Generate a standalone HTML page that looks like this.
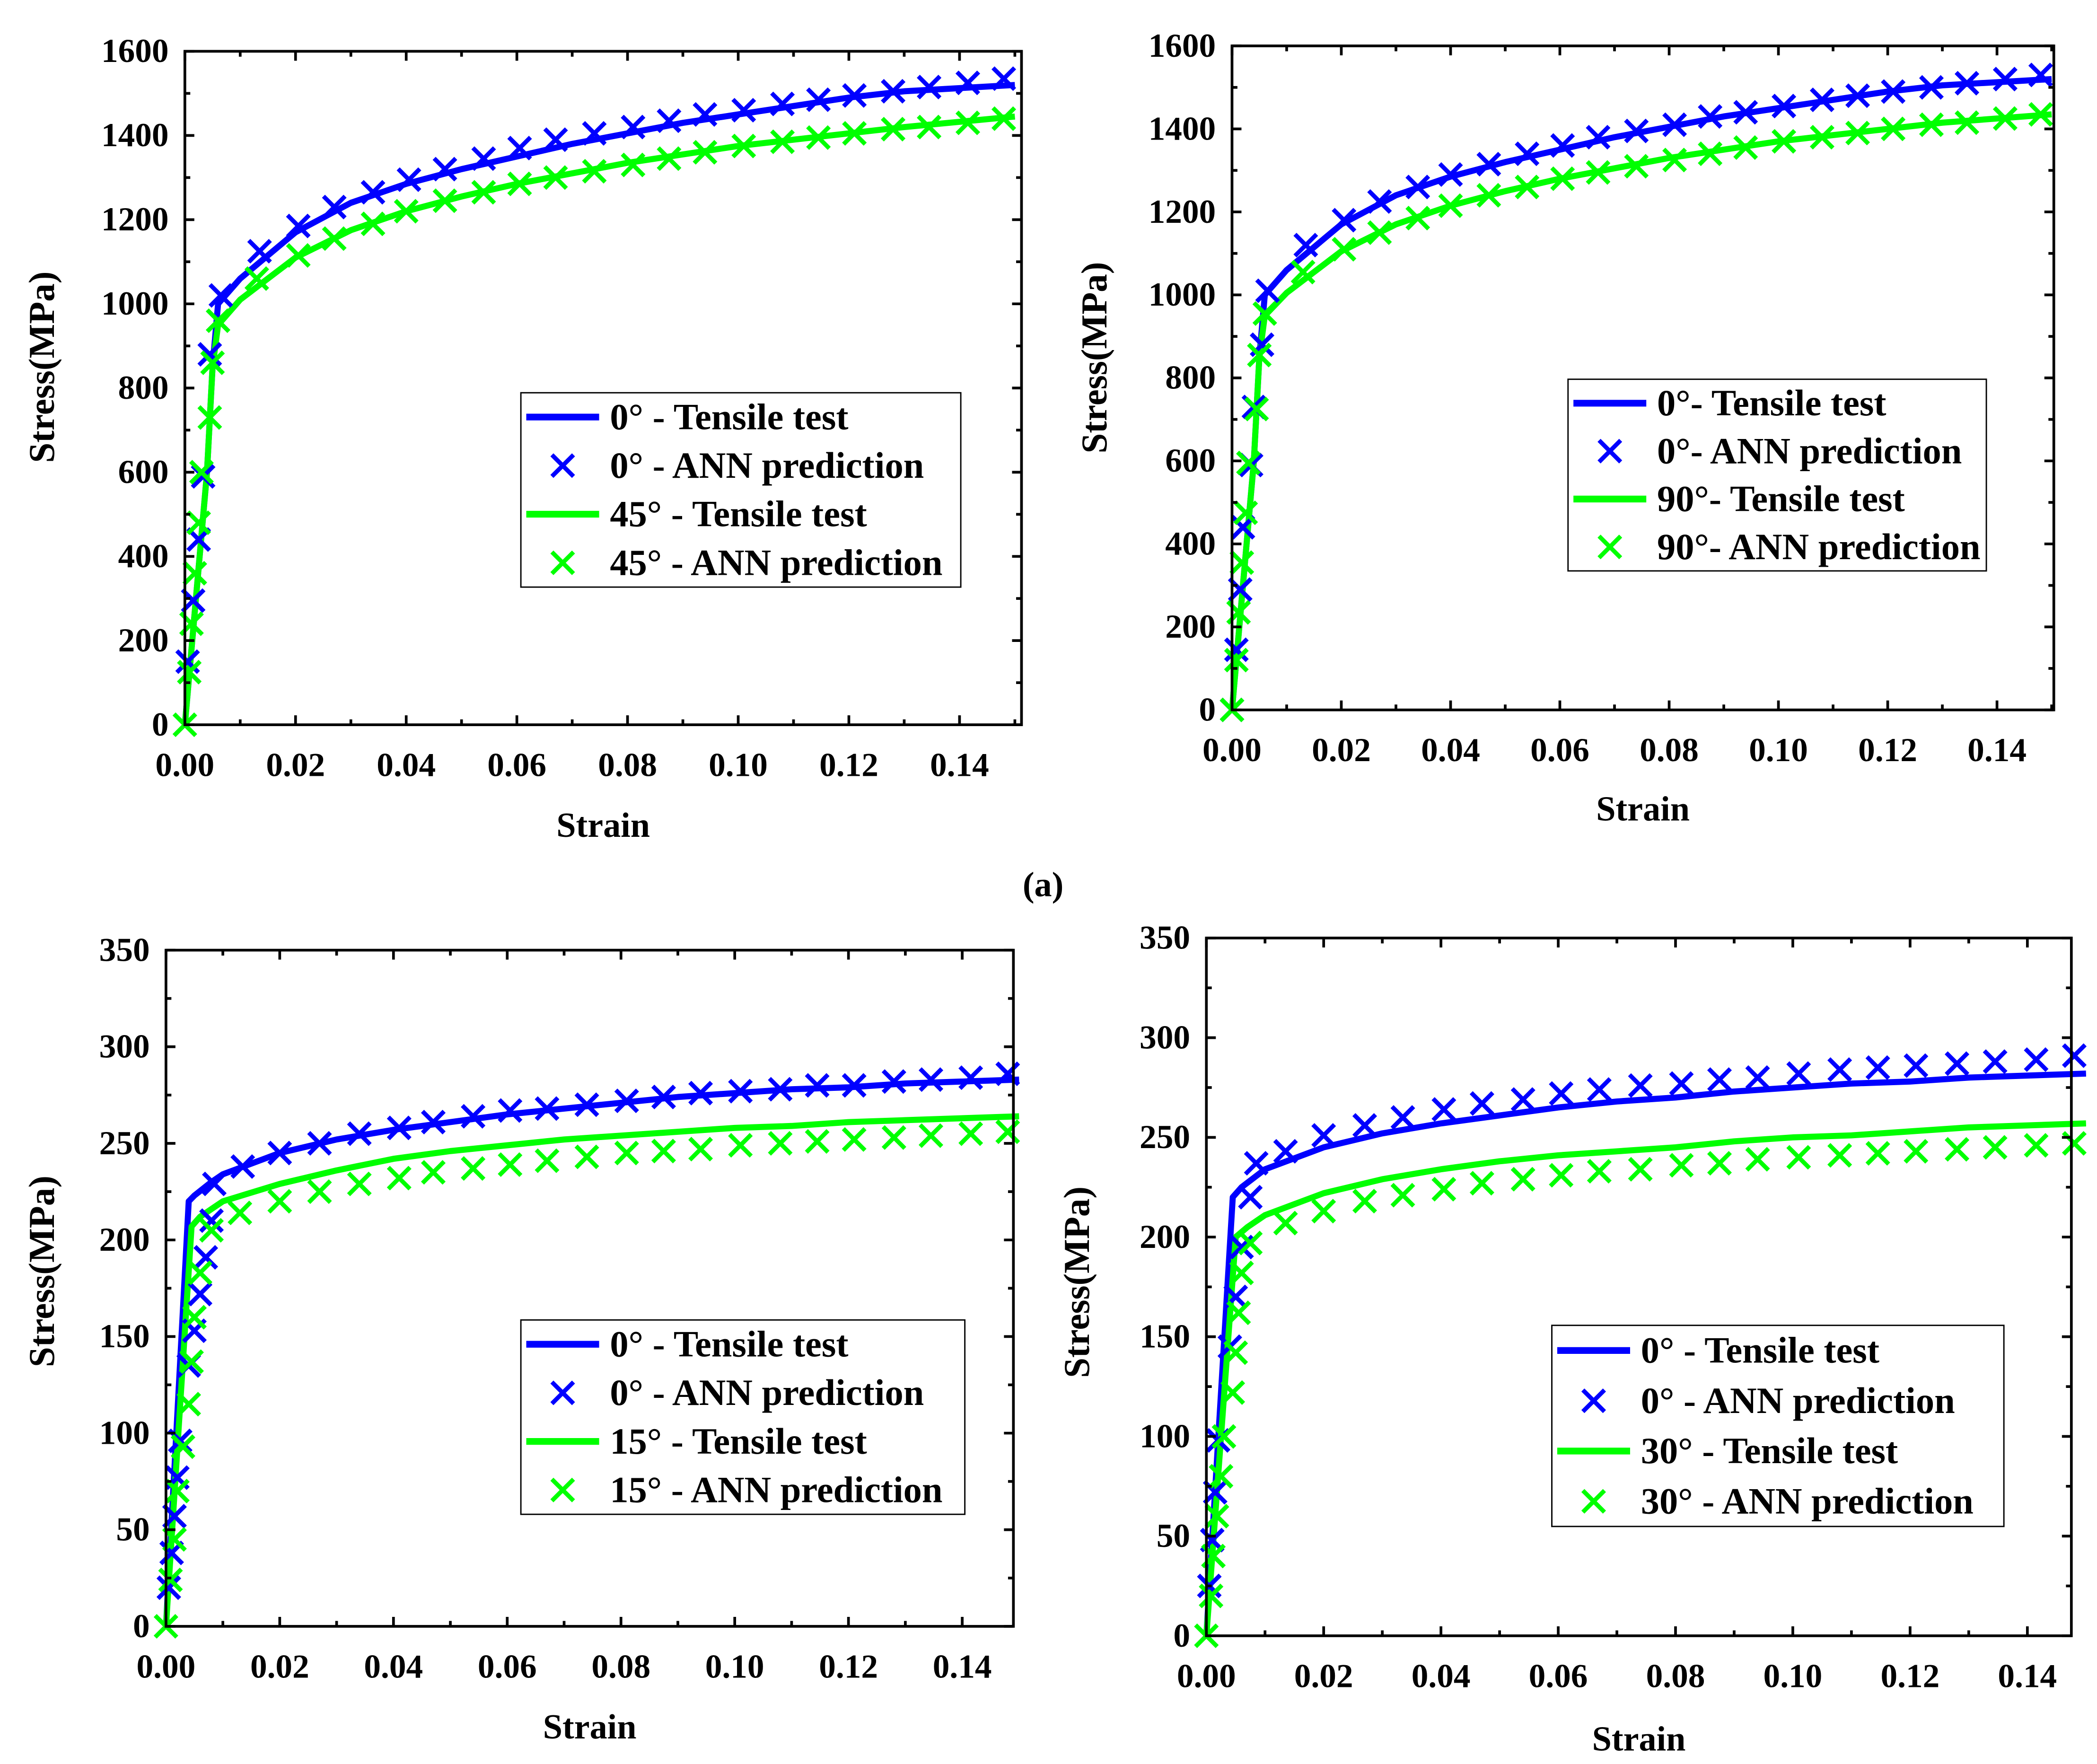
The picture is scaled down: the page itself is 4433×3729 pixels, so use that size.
<!DOCTYPE html>
<html><head><meta charset="utf-8"><style>
html,body{margin:0;padding:0;background:#fff;}
svg{display:block;font-family:"Liberation Serif",serif;font-weight:bold;}
</style></head><body>
<svg id="fig" xmlns="http://www.w3.org/2000/svg" width="4433" height="3729" viewBox="0 0 1554 1307" preserveAspectRatio="none">
<text x="773" y="664" text-anchor="middle" font-size="26">(a)</text>
</svg>
<script>
// ---- Data (strain, stress MPa) ----
const tlLine0X=[0,0.001,0.002,0.003,0.004,0.005,0.006,0.01,0.02,0.03,0.04,0.05,0.06,0.07,0.08,0.09,0.10,0.11,0.12,0.13,0.15];
const tlLine0Y=[0,150,300,450,600,850,1000,1060,1170,1240,1285,1320,1350,1380,1405,1430,1450,1470,1490,1505,1520];
const tlLine45X=[0,0.001,0.002,0.003,0.004,0.005,0.006,0.01,0.02,0.03,0.04,0.05,0.06,0.07,0.08,0.09,0.10,0.11,0.12,0.13,0.15];
const tlLine45Y=[0,150,300,450,600,850,950,1010,1110,1175,1220,1255,1285,1310,1335,1355,1375,1390,1405,1420,1445];
const tlAnn0X=[0.0005,0.0015,0.0025,0.0033,0.0045,0.0065,0.0135,0.0205,0.027,0.034,0.0405,0.047,0.054,0.0605,0.067,0.074,0.081,0.0875,0.094,0.101,0.108,0.1145,0.121,0.128,0.1345,0.1415,0.148];
const tlAnn0Y=[150,295,440,590,880,1020,1125,1185,1230,1265,1295,1320,1345,1370,1390,1405,1420,1435,1450,1460,1475,1485,1495,1505,1515,1525,1535];
const tlAnn45X=[0,0.0008,0.0012,0.0018,0.0025,0.003,0.0045,0.005,0.006,0.013,0.0205,0.027,0.034,0.04,0.047,0.054,0.0605,0.067,0.074,0.081,0.0875,0.094,0.101,0.108,0.1145,0.121,0.128,0.1345,0.1415,0.148];
const tlAnn45Y=[0,125,240,360,480,600,730,860,960,1060,1115,1155,1190,1220,1245,1265,1285,1300,1315,1330,1345,1360,1375,1385,1395,1405,1415,1420,1430,1440];

const trLine0Y=[0,150,300,450,600,850,1000,1060,1170,1240,1285,1320,1350,1380,1405,1430,1450,1470,1490,1505,1520];
const trLine90Y=[0,150,300,450,600,850,950,1005,1105,1170,1215,1250,1280,1305,1330,1350,1370,1385,1400,1415,1435];
const trAnn0X=[0,0.0008,0.0015,0.002,0.0035,0.004,0.0055,0.0065,0.0135,0.0205,0.027,0.034,0.04,0.047,0.054,0.0605,0.067,0.074,0.081,0.0875,0.094,0.101,0.108,0.1145,0.121,0.128,0.1345,0.1415,0.148];
const trAnn0Y=[0,145,290,440,590,730,880,1010,1120,1180,1225,1260,1290,1315,1340,1360,1380,1395,1410,1430,1440,1455,1470,1480,1490,1500,1510,1520,1530];
const trAnn90Y=[0,120,235,355,475,595,725,855,955,1055,1110,1150,1185,1215,1240,1260,1280,1295,1310,1325,1340,1355,1370,1380,1390,1400,1410,1415,1425,1435];

const blLine0X=[0,0.004,0.005,0.008,0.01,0.02,0.03,0.04,0.05,0.06,0.07,0.08,0.09,0.10,0.11,0.12,0.13,0.15];
const blLine0Y=[0,220,223,230,234,245,252,257,261,265,268,271,274,276,278,279,281,283];
const blLine15X=[0,0.0045,0.006,0.008,0.01,0.02,0.03,0.04,0.05,0.06,0.07,0.08,0.09,0.10,0.11,0.12,0.13,0.15];
const blLine15Y=[0,207,212,216,220,229,236,242,246,249,252,254,256,258,259,261,262,264];
const blAnn0X=[0.0005,0.001,0.0015,0.002,0.0025,0.004,0.005,0.006,0.007,0.008,0.0085,0.0135,0.02,0.027,0.034,0.041,0.047,0.054,0.0605,0.067,0.074,0.081,0.0875,0.094,0.101,0.108,0.1145,0.121,0.128,0.1345,0.1415,0.148];
const blAnn0Y=[20,38,57,77,96,135,153,172,191,210,229,238,245,250,255,258,261,264,267,268,270,272,274,276,277,278,280,280,282,283,284,286];
const blAnn15X=[0,0.0008,0.0015,0.002,0.003,0.004,0.0045,0.005,0.006,0.008,0.013,0.02,0.027,0.034,0.041,0.047,0.054,0.0605,0.067,0.074,0.081,0.0875,0.094,0.101,0.108,0.1145,0.121,0.128,0.1345,0.1415,0.148];
const blAnn15Y=[0,24,45,70,93,115,137,160,183,205,214,220,225,229,232,235,237,239,241,243,245,246,247,249,250,251,252,253,254,255,256];

const brLine0X=[0,0.0045,0.006,0.01,0.02,0.03,0.04,0.05,0.06,0.07,0.08,0.09,0.10,0.11,0.12,0.13,0.15];
const brLine0Y=[0,220,225,234,245,252,257,261,265,268,270,273,275,277,278,280,282];
const brLine30X=[0,0.005,0.007,0.01,0.02,0.03,0.04,0.05,0.06,0.07,0.08,0.09,0.10,0.11,0.12,0.13,0.15];
const brLine30Y=[0,200,205,211,222,229,234,238,241,243,245,248,250,251,253,255,257];
const brAnn0X=[0.0005,0.001,0.0015,0.002,0.004,0.005,0.006,0.0075,0.0085,0.0135,0.02,0.027,0.0335,0.0405,0.047,0.054,0.0605,0.067,0.074,0.081,0.0875,0.094,0.101,0.108,0.1145,0.121,0.128,0.1345,0.1415,0.148];
const brAnn0Y=[25,48,72,98,145,170,195,220,237,243,251,256,260,264,267,269,272,274,276,277,279,280,282,284,285,286,287,288,289,291];
const brAnn30X=[0,0.0008,0.0012,0.0018,0.0025,0.003,0.0045,0.005,0.0055,0.006,0.0075,0.0135,0.02,0.027,0.0335,0.0405,0.047,0.054,0.0605,0.067,0.074,0.081,0.0875,0.094,0.101,0.108,0.1145,0.121,0.128,0.1345,0.1415,0.148];
const brAnn30Y=[0,20,40,60,80,100,122,142,162,182,197,207,213,218,221,224,227,229,231,233,234,236,237,239,240,241,242,243,244,245,246,247];

const xTickLabels=["0.00","0.02","0.04","0.06","0.08","0.10","0.12","0.14"];
const yTicksBig=[0,200,400,600,800,1000,1200,1400,1600];
const yTicksSmall=[0,50,100,150,200,250,300,350];

const BLUE="#0000ff", GREEN="#00ff00";
const NS="http://www.w3.org/2000/svg";
const svg=document.getElementById('fig');
function mk(tag,attrs,parent){const e=document.createElementNS(NS,tag);for(const k in attrs)e.setAttribute(k,attrs[k]);(parent||svg).appendChild(e);return e;}

function panel(p){
  const g=mk('g',{});
  
  
  const sx=v=>p.L+(v-0)/(p.xmax)*(p.R-p.L);
  const sy=v=>p.B-(v/p.ymax)*(p.B-p.T);
  p.lines.forEach(s=>{
    const pl=mk('polyline',{points:s.x.map((v,i)=>sx(v)+','+sy(s.y[i])).join(' '),fill:'none',stroke:s.c,'stroke-width':4.5,'stroke-linejoin':'round'},g);
    
    
  });
  p.marks.forEach(s=>{
    s.x.forEach((v,i)=>{
      const cx=sx(v),cy=sy(s.y[i]),d=8;
      const m=mk('path',{d:`M${cx-d},${cy-d}L${cx+d},${cy+d}M${cx-d},${cy+d}L${cx+d},${cy-d}`,stroke:s.c,'stroke-width':3.2,fill:'none'},g);
      
      
    });
  });
  const fr=mk('rect',{x:p.L,y:p.T,width:p.R-p.L,height:p.B-p.T,fill:'none',stroke:'#000','stroke-width':2},g);
  
  
  for(let k=0;k<=15;k++){
    const v=k*0.01; if(v>p.xmax+1e-9)break;
    const x=sx(v),len=k%2==0?7:4;
    mk('line',{x1:x,y1:p.B,x2:x,y2:p.B-len,stroke:'#000','stroke-width':2},g);
    mk('line',{x1:x,y1:p.T,x2:x,y2:p.T+len,stroke:'#000','stroke-width':2},g);
  }
  xTickLabels.forEach((t,i)=>{
    const tl=mk('text',{x:sx(i*0.02),y:p.B+38,'text-anchor':'middle','font-size':25},g);
    tl.textContent=t;
    
    
  });
  const yt=p.yticks, step=yt[1]-yt[0];
  for(let v=0;v<=p.ymax+1e-9;v+=step/2){
    const y=sy(v),len=(Math.round(v/step*2)%2==0)?7:4;
    mk('line',{x1:p.L,y1:y,x2:p.L+len,y2:y,stroke:'#000','stroke-width':2},g);
    mk('line',{x1:p.R,y1:y,x2:p.R-len,y2:y,stroke:'#000','stroke-width':2},g);
  }
  yt.forEach(v=>{
    const tl=mk('text',{x:p.L-12,y:sy(v)+8,'text-anchor':'end','font-size':25},g);
    tl.textContent=v;
    
    
  });
  const xt=mk('text',{x:(p.L+p.R)/2,y:p.xty,'text-anchor':'middle','font-size':26},g);
  xt.textContent='Strain';
  
  
  const ytt=mk('text',{x:0,y:0,'text-anchor':'middle','font-size':27,transform:`translate(${p.ytx},${p.yty}) rotate(-90)`},g);
  ytt.textContent='Stress(MPa)';
  
  
  const lg=p.leg;
  const lb=mk('rect',{x:lg.x,y:lg.y,width:lg.w,height:lg.h,fill:'#fff',stroke:'#000','stroke-width':1},g);
  
  
  const rowH=lg.h/4;
  lg.items.forEach((it,i)=>{
    const cy=lg.y+rowH*(i+0.5);
    if(it.line){
      mk('line',{x1:lg.x+4,y1:cy,x2:lg.x+58,y2:cy,stroke:it.c,'stroke-width':5},g);
    }else{
      const cx=lg.x+31,d=8;
      mk('path',{d:`M${cx-d},${cy-d}L${cx+d},${cy+d}M${cx-d},${cy+d}L${cx+d},${cy-d}`,stroke:it.c,'stroke-width':3.2},g);
    }
    const t=mk('text',{x:lg.x+66,y:cy+9,'font-size':27.5},g);
    t.textContent=it.t;
    
    
  });
}

panel({name:'chart-0-45',L:137,R:757,T:38,B:537,xmax:0.1512,ymax:1600,yticks:yTicksBig,xty:620,ytx:40,yty:272,
  lines:[{x:tlLine0X,y:tlLine0Y,c:BLUE,n:'line-0deg-tensile'},{x:tlLine45X,y:tlLine45Y,c:GREEN,n:'line-45deg-tensile'}],
  marks:[{x:tlAnn0X,y:tlAnn0Y,c:BLUE,n:'marker-0deg-ann'},{x:tlAnn45X,y:tlAnn45Y,c:GREEN,n:'marker-45deg-ann'}],
  leg:{x:386,y:291,w:326,h:144,items:[{line:1,c:BLUE,t:'0° - Tensile test'},{c:BLUE,t:'0° - ANN prediction'},{line:1,c:GREEN,t:'45° - Tensile test'},{c:GREEN,t:'45° - ANN prediction'}]}});

panel({name:'chart-0-90',L:913,R:1522,T:34,B:526,xmax:0.1504,ymax:1600,yticks:yTicksBig,xty:608,ytx:820,yty:265,
  lines:[{x:tlLine0X,y:trLine0Y,c:BLUE,n:'line-0deg-tensile'},{x:tlLine45X,y:trLine90Y,c:GREEN,n:'line-90deg-tensile'}],
  marks:[{x:trAnn0X,y:trAnn0Y,c:BLUE,n:'marker-0deg-ann'},{x:tlAnn45X,y:trAnn90Y,c:GREEN,n:'marker-90deg-ann'}],
  leg:{x:1162,y:281,w:310,h:142,items:[{line:1,c:BLUE,t:'0°- Tensile test'},{c:BLUE,t:'0°- ANN prediction'},{line:1,c:GREEN,t:'90°- Tensile test'},{c:GREEN,t:'90°- ANN prediction'}]}});

panel({name:'chart-0-15',L:123,R:751,T:704,B:1205,xmax:0.149,ymax:350,yticks:yTicksSmall,xty:1288,ytx:40,yty:942,
  lines:[{x:blLine0X,y:blLine0Y,c:BLUE,n:'line-0deg-tensile'},{x:blLine15X,y:blLine15Y,c:GREEN,n:'line-15deg-tensile'}],
  marks:[{x:blAnn0X,y:blAnn0Y,c:BLUE,n:'marker-0deg-ann'},{x:blAnn15X,y:blAnn15Y,c:GREEN,n:'marker-15deg-ann'}],
  leg:{x:386,y:978,w:329,h:144,items:[{line:1,c:BLUE,t:'0° - Tensile test'},{c:BLUE,t:'0° - ANN prediction'},{line:1,c:GREEN,t:'15° - Tensile test'},{c:GREEN,t:'15° - ANN prediction'}]}});

panel({name:'chart-0-30',L:894,R:1535,T:695,B:1212,xmax:0.1475,ymax:350,yticks:yTicksSmall,xty:1297,ytx:807,yty:950,
  lines:[{x:brLine0X,y:brLine0Y,c:BLUE,n:'line-0deg-tensile'},{x:brLine30X,y:brLine30Y,c:GREEN,n:'line-30deg-tensile'}],
  marks:[{x:brAnn0X,y:brAnn0Y,c:BLUE,n:'marker-0deg-ann'},{x:brAnn30X,y:brAnn30Y,c:GREEN,n:'marker-30deg-ann'}],
  leg:{x:1150,y:982,w:335,h:149,items:[{line:1,c:BLUE,t:'0° - Tensile test'},{c:BLUE,t:'0° - ANN prediction'},{line:1,c:GREEN,t:'30° - Tensile test'},{c:GREEN,t:'30° - ANN prediction'}]}});
</script>
</body></html>
